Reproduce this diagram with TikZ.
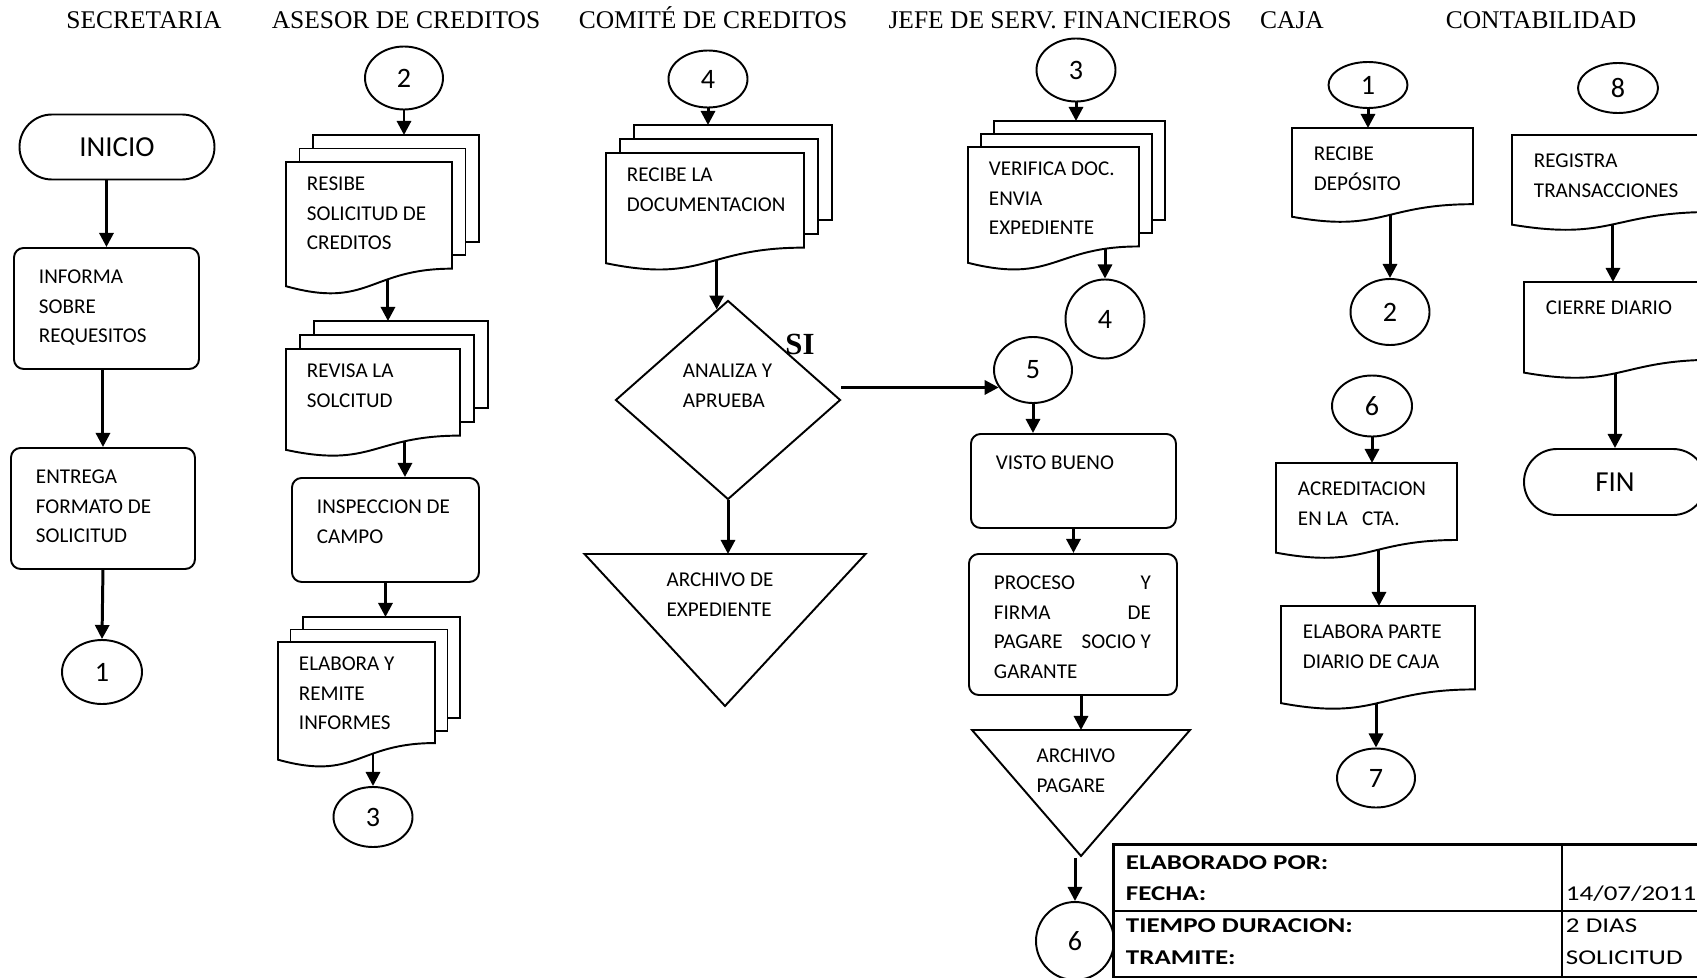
\documentclass[tikz,border=0pt]{standalone}
\usepackage{fontspec}
\setmainfont{Carlito}
\newfontfamily\lanefont{Liberation Serif}
\newfontfamily\tabfont[FakeStretch=1.28]{Carlito}
\usetikzlibrary{
  shapes.geometric, shapes.misc, arrows.meta, calc,
}
\pgfdeclarelayer{back}
\pgfsetlayers{back,main}
\newcommand\pxu{0.02cm}

\begin{document}
\begin{tikzpicture}[
    x=0.02cm, y=-0.02cm,
    line width=1.1pt,
    txt/.style={
        font=\fontsize{12}{16.8}\selectfont,
        align=left, inner sep=0pt, anchor=north west,
      },
    lane/.style={
        font=\lanefont\fontsize{14.5}{17}\selectfont,
        anchor=base, inner sep=0pt,
      },
    cell/.style={
        font=\tabfont\fontsize{12}{14}\selectfont,
        anchor=base west, inner sep=0pt,
      },
    box/.style 2 args={
        inner sep=0pt, anchor=north west,
        minimum width={(#1)*\pxu}, minimum height={(#2)*\pxu},
      },
    con/.style 2 args={
        ellipse, draw, fill=white, inner sep=0pt,
        minimum width={(#1)*\pxu}, minimum height={(#2)*\pxu},
        font=\fontsize{16}{16}\selectfont,
      },
    term/.style={
        rounded rectangle, draw, fill=white, inner sep=0pt,
        font=\fontsize{16.5}{18}\selectfont,
      },
    arr/.style={
        line width=1.7pt, -{Triangle[width=8pt,length=8pt]},
      },
    pics/doc/.style n args={3}{code={
        \draw[fill=white] (0,{0.934*#2}) -- (0,0) -- (#1,0) -- (#1,{0.802*#2})
          .. controls ({0.5*#1},{0.802*#2}) and ({0.5*#1},{1.1075*#2}) .. (0,{0.934*#2}) -- cycle;
        \node[box={#1}{#2}] (-box) at (0,0) {};
        \node[txt] (-t) at (21,18) {#3};
      }},
    pics/stack/.style n args={4}{code={
        \foreach \k in {2,1}
          \draw[fill=white] ({\k*#3},{0.802*#2-\k*#3}) rectangle ({#1+\k*#3},{-\k*#3});
        \draw[fill=white] (0,{0.934*#2}) -- (0,0) -- (#1,0) -- (#1,{0.802*#2})
          .. controls ({0.5*#1},{0.802*#2}) and ({0.5*#1},{1.1075*#2}) .. (0,{0.934*#2}) -- cycle;
        \node[box={#1+2*#3}{#2+2*#3}] (-box) at (0,{-2*#3}) {};
        \node[txt] (-t) at (20,14) {#4};
      }},
    pics/proc/.style n args={3}{code={
        \node[box={#1}{#2}, draw, fill=white, rounded corners=5.5pt] (-box) at (0,0) {};
        \node[txt] (-t) at (25,22) {#3};
      }},
    pics/merge/.style n args={3}{code={
        \draw[fill=white] ({-#1/2},0) -- ({#1/2},0) -- (0,#2) -- cycle;
        \node[box={#1}{#2}, anchor=north] (-box) at (0,0) {};
        \node[txt, anchor=north] (-t) at (-5,18) {#3};
      }},
  ]
  \useasboundingbox (0,0) rectangle (1697,977);

  \foreach \x/\t [count=\i] in {
      144/SECRETARIA,
      406/ASESOR DE CREDITOS,
      713/COMITÉ DE CREDITOS,
      1060/JEFE DE SERV. FINANCIEROS,
      1292/CAJA,
      1541/CONTABILIDAD
    }{
      \node[lane] (lane\i) at (\x,29) {\t};
    }

  \foreach \n/\x/\y/\w/\h/\t in {
      c1a/102/672/80/64/1, c2a/404/78/78/63/2, c3a/373/817/79/60/3,
      c4a/708/79/79/57/4, c3b/1076/70/79/63/3, c4b/1105/319/79/79/4,
      c5/1033/370/78/66/5, c6b/1075/941/78/78/6, c1b/1368/85/79/46/1,
      c2b/1390/312/79/66/2, c6a/1372/406/80/61/6, c7/1376/778/78/59/7,
      c8/1618/88/80/50/8
    }{
      \node[con={\w}{\h}] (\n) at (\x,\y) {\t};
    }

  \node[term, minimum width=195*\pxu, minimum height=65*\pxu] (inicio) at (117,147) {INICIO};
  \node[term, minimum width=182*\pxu, minimum height=66*\pxu] (fin) at (1615,482) {FIN};

  \pic (informa) at (13,247) {proc={185}{121}{INFORMA\\SOBRE\\REQUESITOS}};
  \pic (entrega) at (10,447) {proc={184}{121}{ENTREGA\\FORMATO DE\\SOLICITUD}};

  \pic (resibe) at (286,162) {stack={166}{133}{13.5}{RESIBE\\SOLICITUD DE\\CREDITOS}};
  \pic (revisa) at (286,349) {stack={174}{108}{14}{REVISA LA\\SOLCITUD}};
  \pic (inspeccion) at (291,477) {proc={187}{104}{INSPECCION DE\\CAMPO}};
  \pic (elabora) at (278,642) {stack={157}{126}{12.5}{ELABORA Y\\REMITE\\INFORMES}};

  \pic (recibe) at (606,153) {stack={198}{118}{14}{RECIBE LA\\DOCUMENTACION}};
  \node[diamond, draw, fill=white, inner sep=0pt,
    minimum width=225*\pxu, minimum height=199*\pxu] (analiza) at (728,400) {};
  \node[txt] (analiza-t) at (682,363) {ANALIZA Y\\APRUEBA};
  \node[font=\lanefont\bfseries\fontsize{17.5}{18}\selectfont, inner sep=0pt] (si) at (800,344) {SI};
  \pic (expediente) at (725,554) {merge={281}{152}{ARCHIVO DE\\EXPEDIENTE}};

  \pic (verifica) at (968,147) {stack={171}{124}{13}{VERIFICA DOC.\\ENVIA\\EXPEDIENTE}};
  \pic (visto) at (970,433) {proc={205}{94}{VISTO BUENO}};
  \pic (proceso) at (968,553) {proc={208}{141}{%
      \hbox to 3.14cm{PROCESO\hfill Y}\\
      \hbox to 3.14cm{FIRMA\hfill DE}\\
      \hbox to 3.14cm{PAGARE\hfill SOCIO Y}\\
      GARANTE}};
  \pic (pagare) at (1081,730) {merge={218}{126}{ARCHIVO\\PAGARE}};

  \pic (deposito) at (1292,128) {doc={181}{95}{RECIBE\\DEPÓSITO}};
  \pic (acredita) at (1276,463) {doc={181}{96}{ACREDITACION\\EN LA\ \ \ CTA.}};
  \pic (parte) at (1281,606) {doc={194}{104}{ELABORA PARTE\\DIARIO DE CAJA}};

  \pic (registra) at (1512,135) {doc={200}{96}{REGISTRA\\TRANSACCIONES}};
  \pic (cierre) at (1524,282) {doc={190}{97}{CIERRE DIARIO}};

  % datos del tramite
  \node[box={700}{133}, draw, line width=1.6pt] (tabla) at (1112,843) {};
  \draw[line width=1.6pt] (tabla.west) -- (tabla.east);
  \draw[line width=1.6pt] ([xshift=450*\pxu]tabla.north west) -- ([xshift=450*\pxu]tabla.south west);
  \foreach \y/\t [count=\i] in {869/ELABORADO POR:, 900/FECHA:, 932/TIEMPO DURACION:, 964/TRAMITE:}{
      \node[cell] (campo\i) at (1125,\y) {\bfseries \t};
    }
  \node[cell] (fecha) at (1565,900) {14/07/2011};
  \node[cell] (duracion) at (1565,932) {2 DIAS};
  \node[cell] (tramite) at (1565,964) {SOLICITUD};

  \coordinate (insp-in) at ([xshift=19.5*\pxu]inspeccion-box.north);
  \coordinate (analiza-in) at ($(analiza.north)!0.1!(analiza.west)$);

  \begin{pgfonlayer}{back}
    \draw[arr] (inicio.south -| informa-box.north) -- (informa-box.north);
    \draw[arr] (entrega-box.north |- informa-box.south) -- (entrega-box.north);
    \draw[arr] (entrega-box.south) -- (c1a.north);

    \draw[arr] (c2a.south) -- (c2a.south |- resibe-box.north);
    \draw[arr] (revisa-box.north |- resibe-box.center) -- (revisa-box.north);
    \draw[arr] (insp-in |- revisa-box.center) -- (insp-in);
    \draw[arr] (inspeccion-box.south) -- (inspeccion-box.south |- elabora-box.north);
    \draw[arr] (c3a |- elabora-box.center) -- (c3a.north);

    \draw[arr] (c4a.south) -- (c4a.south |- recibe-box.north);
    \draw[arr] (analiza-in |- recibe-box.center) -- (analiza-in);
    \draw[arr] (analiza.south) -- (analiza.south |- expediente-box.north);
    \draw[arr] (c5.207 -| analiza.east) -- (c5.207);

    \draw[arr] (c3b.south) -- (c3b.south |- verifica-box.north);
    \draw[arr] (c4b |- verifica-box.center) -- (c4b.north);
    \draw[arr] (c5.south) -- (c5.south |- visto-box.north);
    \draw[arr] (visto-box.south) -- (visto-box.south |- proceso-box.north);
    \draw[arr] (pagare-box.north |- proceso-box.south) -- (pagare-box.north);
    \draw[arr] (c6b.north |- pagare-box.south) -- (c6b.north);

    \draw[arr] (c1b.south) -- (c1b.south |- deposito-box.north);
    \draw[arr] (c2b |- deposito-box.center) -- (c2b.north);
    \draw[arr] (c6a.south) -- (c6a.south |- acredita-box.north);
    \draw[arr] (parte-box.north |- acredita-box.center) -- (parte-box.north);
    \draw[arr] (c7 |- parte-box.center) -- (c7.north);

    \draw[arr] (registra-box.center) -- (registra-box.center |- cierre-box.north);
    \draw[arr] (fin |- cierre-box.center) -- (fin.north);
  \end{pgfonlayer}
\end{tikzpicture}
\end{document}
